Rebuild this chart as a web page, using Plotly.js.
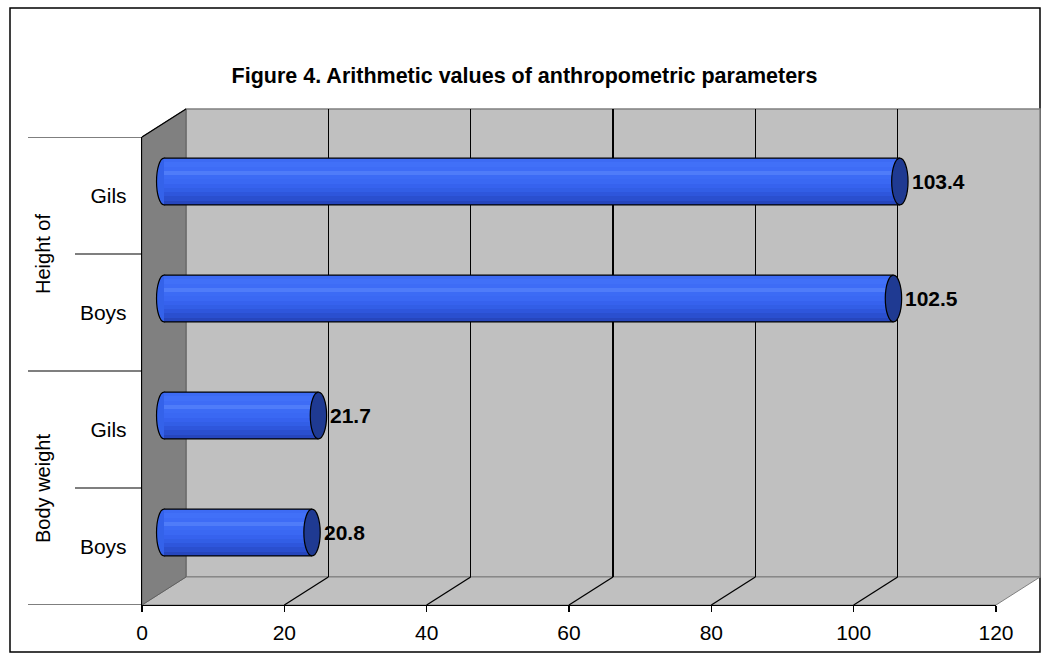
<!DOCTYPE html>
<html>
<head>
<meta charset="utf-8">
<script src="https://cdn.plot.ly/plotly-3.0.1.min.js"></script>
<style>
  html, body { margin: 0; padding: 0; background: #ffffff; }
  #chart { width: 1049px; height: 660px; }
</style>
</head>
<body>
<div id="chart"></div>
<script>
// ---------- data ----------
const categories = ['Boys', 'Gils', 'Boys', 'Gils'];
const groups = ['Body weight', 'Height of'];
const values = [20.8, 21.7, 102.5, 103.4];
const valueLabels = ['20.8', '21.7', '102.5', '103.4'];
const xTicks = [0, 20, 40, 60, 80, 100, 120];
const titleText = 'Figure 4. Arithmetic values of anthropometric parameters';

// ---------- geometry (pixels) ----------
const W = 1049, H = 660;
const FX0 = 142, FX1 = 996;     // front x axis: 0 .. 120
const FYB = 605, FYT = 137;     // front y extent
const DX = 44, DY = 28;         // depth offset of the 3-D box
const XMAX = 120;
const PPU = (FX1 - FX0) / XMAX; // pixels per unit
const px = x => x / W;
const py = y => 1 - y / H;
const FONT = 'Liberation Sans, Arial, sans-serif';

// mid-depth axis (bars) - range extended so caps are not clipped
const MID_MIN = -5, MID_MAX = 122;
const midX0 = FX0 + DX / 2 + MID_MIN * PPU;
const midX1 = FX0 + DX / 2 + MID_MAX * PPU;

const ys = categories.map((c, i) => i);
const BARW = 0.4;

// gradient bands for the cylinder body (bottom -> top)
const bandColors = ['#2646bd', '#2a4fcf', '#2e56dc', '#325ee6', '#3662ee', '#3a68f3', '#3c6bf5', '#4f7cf9', '#3e6cf6', '#4170f8', '#3d6bf4'];
const NB = bandColors.length;
const traces = bandColors.map((col, b) => ({
  type: 'bar', orientation: 'h',
  x: values, y: ys,
  xaxis: 'x3', yaxis: 'y3',
  width: BARW / NB, offset: -BARW / 2 + b * BARW / NB,
  marker: { color: col, line: { width: 0 } },
  hoverinfo: 'skip'
}));
// empty trace so the back-wall subplot (gridlines) is rendered
traces.unshift({ type: 'scatter', x: [], y: [], xaxis: 'x2', yaxis: 'y2', hoverinfo: 'skip' });

const shapes = [];
// outer frame
shapes.push({ type: 'rect', xref: 'paper', yref: 'paper', x0: px(10), x1: px(1040), y0: py(652), y1: py(8),
  line: { color: '#000', width: 1.5 }, fillcolor: 'rgba(0,0,0,0)', layer: 'below' });
// back wall
shapes.push({ type: 'rect', xref: 'paper', yref: 'paper', x0: px(FX0 + DX), x1: px(FX1 + DX), y0: py(FYB - DY), y1: py(FYT - DY),
  line: { color: '#808080', width: 1.5 }, fillcolor: '#c0c0c0', layer: 'below' });
// floor
shapes.push({ type: 'path', xref: 'paper', yref: 'paper',
  path: `M ${px(FX0)} ${py(FYB)} L ${px(FX1)} ${py(FYB)} L ${px(FX1 + DX)} ${py(FYB - DY)} L ${px(FX0 + DX)} ${py(FYB - DY)} Z`,
  line: { color: '#808080', width: 1 }, fillcolor: '#c0c0c0', layer: 'below' });
// left wall
shapes.push({ type: 'path', xref: 'paper', yref: 'paper',
  path: `M ${px(FX0)} ${py(FYT)} L ${px(FX0 + DX)} ${py(FYT - DY)} L ${px(FX0 + DX)} ${py(FYB - DY)} L ${px(FX0)} ${py(FYB)} Z`,
  line: { color: '#606060', width: 1 }, fillcolor: '#808080', layer: 'below' });
// top edge of left wall (black)
shapes.push({ type: 'line', xref: 'paper', yref: 'paper', x0: px(FX0), y0: py(FYT), x1: px(FX0 + DX), y1: py(FYT - DY),
  line: { color: '#000', width: 1.3 }, layer: 'below' });
// floor diagonals for the inner ticks
xTicks.slice(1, -1).forEach(v => {
  const fx = FX0 + v * PPU;
  shapes.push({ type: 'line', xref: 'paper', yref: 'paper', x0: px(fx), y0: py(FYB), x1: px(fx + DX), y1: py(FYB - DY),
    line: { color: '#000', width: 1.3 }, layer: 'below' });
});
// category boundary lines on the left
[-0.5, 0.5, 1.5, 2.5, 3.5].forEach((b, k) => {
  const long = (k % 2 === 0);
  shapes.push({ type: 'line', xref: 'paper', yref: 'y', x0: px(long ? 28 : 75), x1: px(FX0), y0: b, y1: b,
    line: { color: '#000', width: 1.2 } });
});
// cylinders: left rounded end, outline, right cap
values.forEach((v, i) => {
  const rx = 1.05;
  shapes.push({ type: 'circle', xref: 'x3', yref: 'y3', x0: -rx, x1: rx, y0: i - BARW / 2, y1: i + BARW / 2,
    fillcolor: '#3462ea', line: { color: '#000', width: 1.2 }, layer: 'below' });
  shapes.push({ type: 'line', xref: 'x3', yref: 'y3', x0: 0, x1: v, y0: i + BARW / 2, y1: i + BARW / 2,
    line: { color: '#000', width: 1.2 } });
  shapes.push({ type: 'line', xref: 'x3', yref: 'y3', x0: 0, x1: v, y0: i - BARW / 2, y1: i - BARW / 2,
    line: { color: '#000', width: 1.2 } });
  shapes.push({ type: 'circle', xref: 'x3', yref: 'y3', x0: v - 1.15, x1: v + 1.15, y0: i - BARW / 2, y1: i + BARW / 2,
    fillcolor: '#1f3a92', line: { color: '#000', width: 1.2 } });
});

const annotations = [];
values.forEach((v, i) => {
  annotations.push({ xref: 'x3', yref: 'y3', x: v, y: i, text: valueLabels[i], showarrow: false,
    xanchor: 'left', yanchor: 'middle', xshift: 10,
    font: { family: FONT, size: 21, color: '#000', weight: 'bold' } });
});
groups.forEach((g, k) => {
  annotations.push({ xref: 'paper', yref: 'y', x: px(43), y: 0.5 + 2 * k, text: g, showarrow: false,
    textangle: -90, xanchor: 'center', yanchor: 'middle',
    font: { family: FONT, size: 20, color: '#000' } });
});

const layout = {
  width: W, height: H,
  margin: { l: 0, r: 0, t: 0, b: 0, pad: 0 },
  paper_bgcolor: '#ffffff', plot_bgcolor: 'rgba(0,0,0,0)',
  showlegend: false, hovermode: false, barmode: 'overlay', bargap: 0,
  title: { text: titleText, x: 0.5, xanchor: 'center', y: 1 - 75 / H, yanchor: 'middle', yref: 'container',
    font: { family: FONT, size: 21.5, color: '#000', weight: 'bold' } },
  xaxis: { domain: [px(FX0), px(FX1)], range: [0, XMAX], anchor: 'y',
    tickvals: xTicks, ticktext: xTicks.map(String), ticks: 'outside', ticklen: 6, tickcolor: '#000', tickwidth: 1.2,
    showline: true, linecolor: '#000', linewidth: 1.2, showgrid: false, zeroline: false,
    ticklabelstandoff: 3, tickfont: { family: FONT, size: 21, color: '#000' }, fixedrange: true },
  yaxis: { domain: [py(FYB), py(FYT)], range: [-0.5, 3.5], anchor: 'x',
    tickvals: ys, ticktext: categories, ticks: '', showline: true, linecolor: '#000', linewidth: 1.2,
    showgrid: false, zeroline: false, ticklabelstandoff: 10,
    tickfont: { family: FONT, size: 21, color: '#000' }, fixedrange: true },
  xaxis2: { domain: [px(FX0 + DX), px(FX1 + DX)], range: [0, XMAX], anchor: 'y2',
    tickvals: xTicks.slice(1, -1), showticklabels: false, ticks: '', showline: false,
    showgrid: true, gridcolor: '#000', gridwidth: 1.2, zeroline: false, fixedrange: true },
  yaxis2: { domain: [py(FYB - DY), py(FYT - DY)], range: [0, 1], anchor: 'x2',
    showticklabels: false, ticks: '', showline: false, showgrid: false, zeroline: false, fixedrange: true },
  xaxis3: { domain: [px(midX0), px(midX1)], range: [MID_MIN, MID_MAX], anchor: 'y3',
    showticklabels: false, ticks: '', showline: false, showgrid: false, zeroline: false, fixedrange: true },
  yaxis3: { domain: [py(FYB - DY / 2), py(FYT - DY / 2)], range: [-0.5, 3.5], anchor: 'x3',
    showticklabels: false, ticks: '', showline: false, showgrid: false, zeroline: false, fixedrange: true },
  shapes: shapes,
  annotations: annotations
};

Plotly.newPlot('chart', traces, layout, { staticPlot: true, displayModeBar: false });
</script>
</body>
</html>
